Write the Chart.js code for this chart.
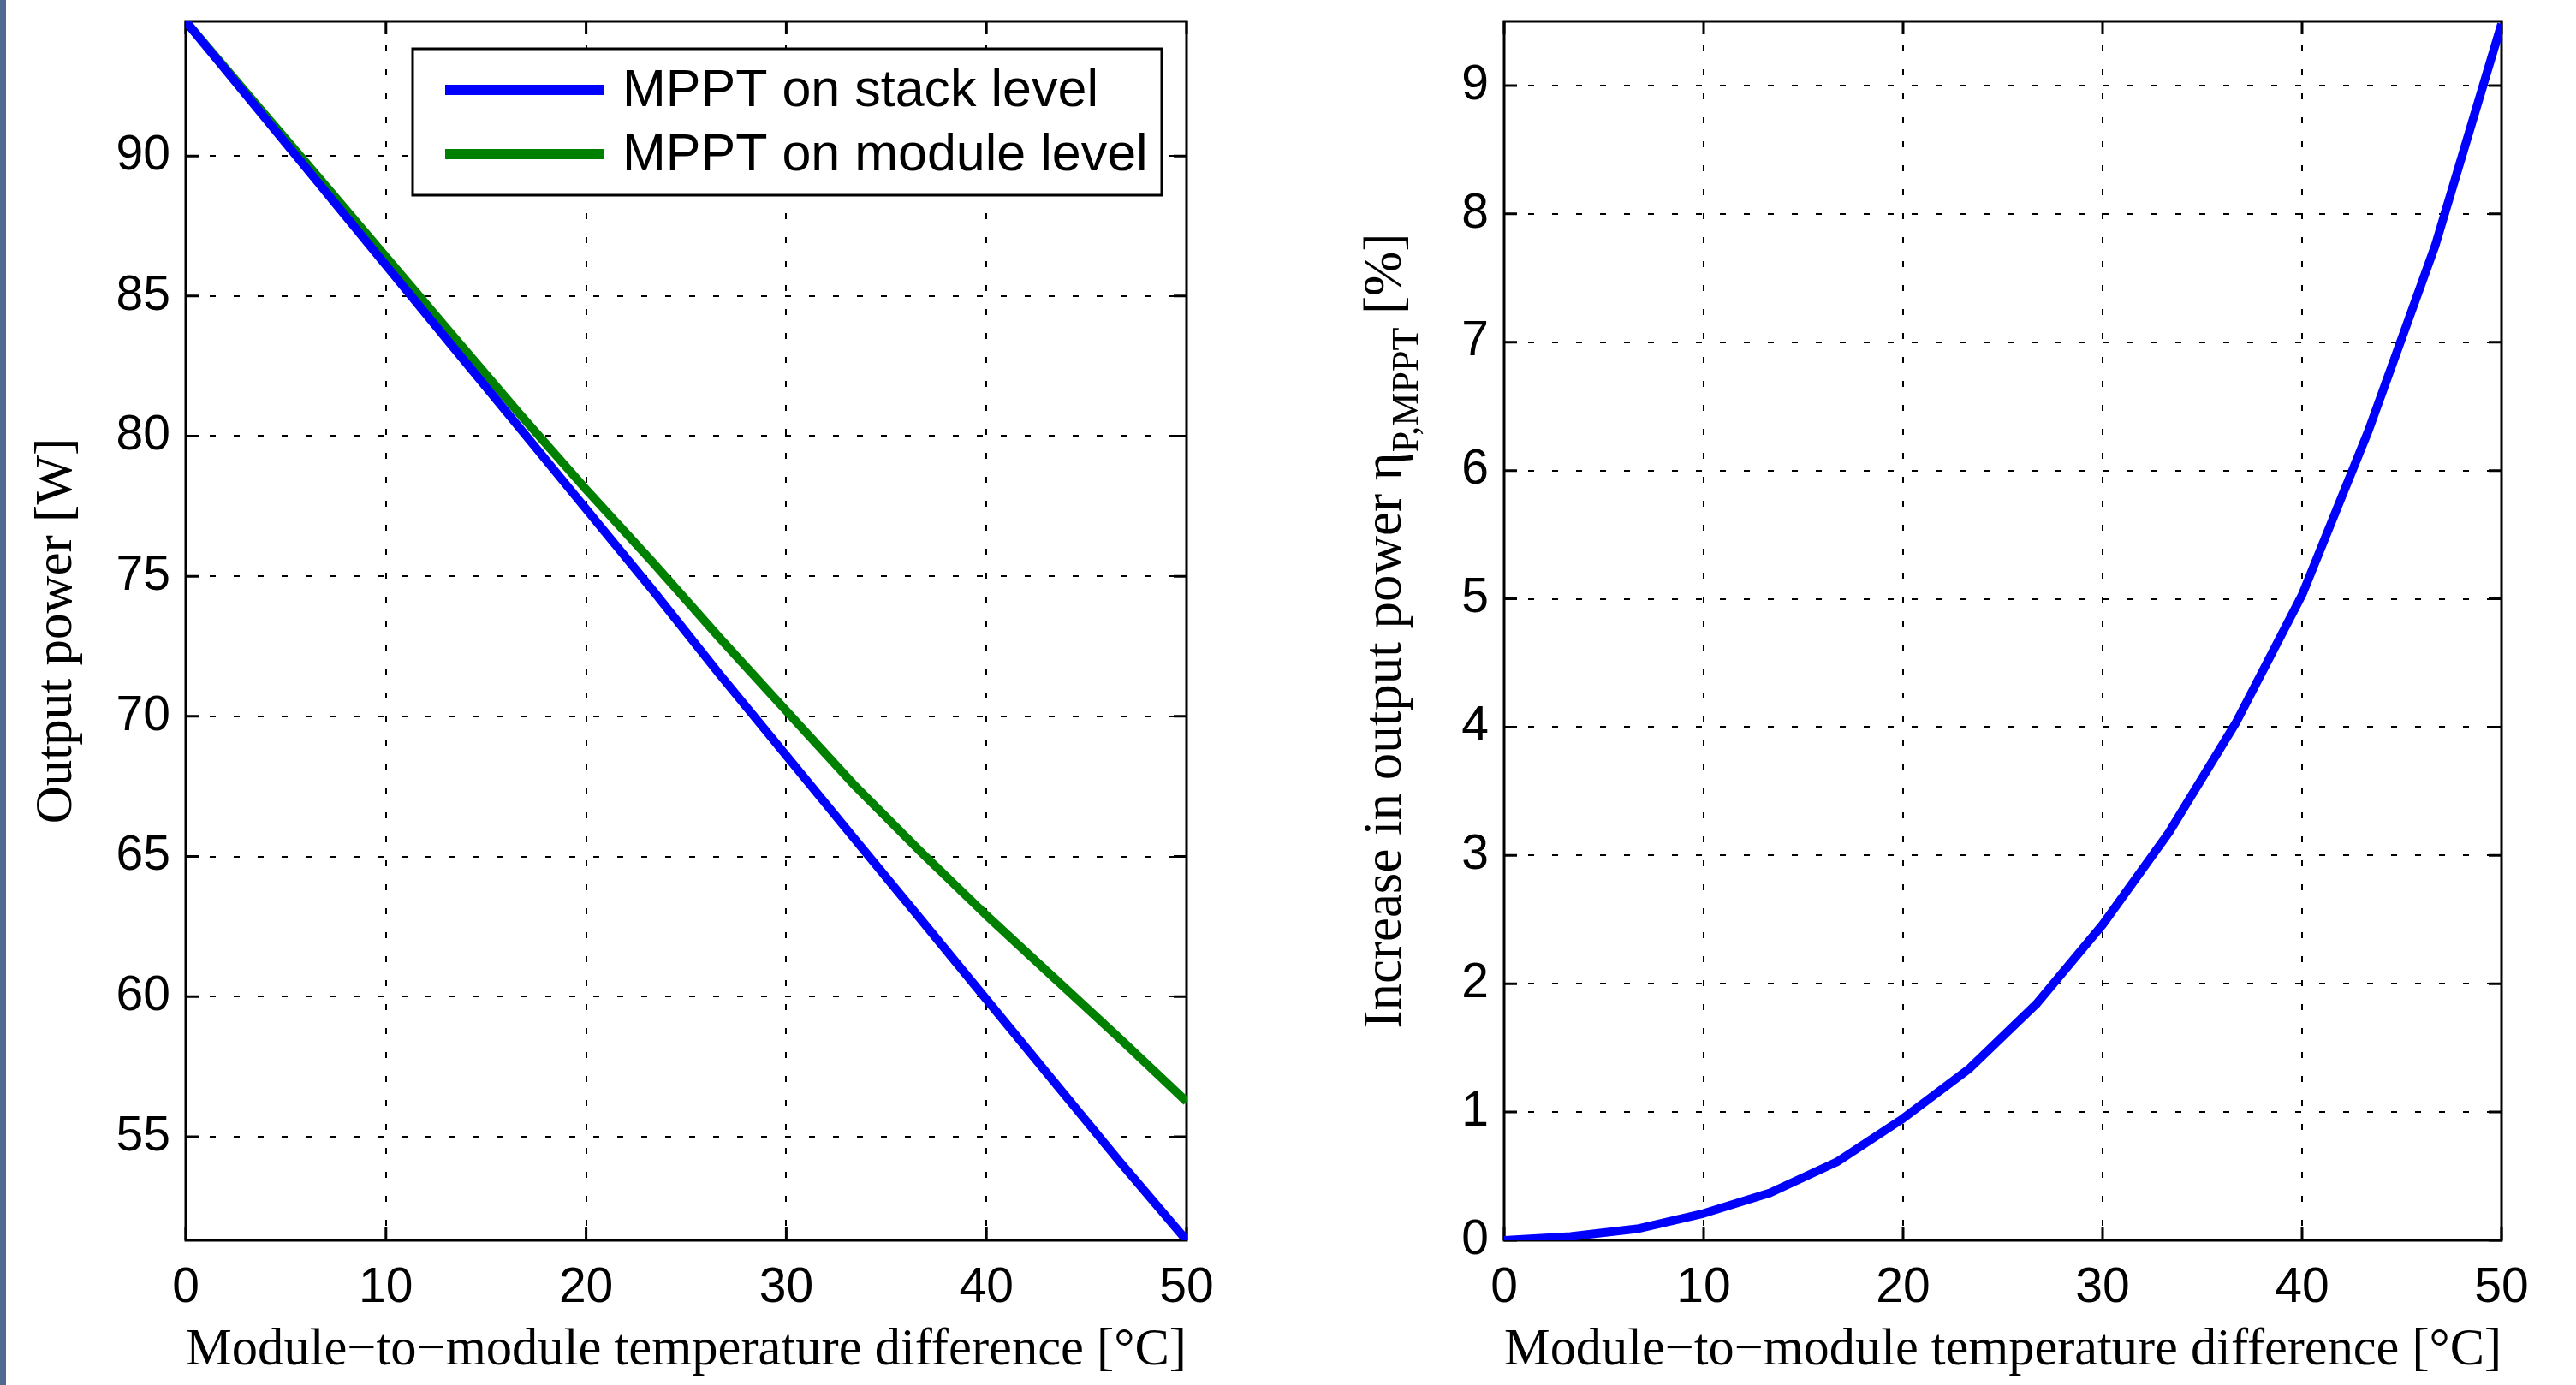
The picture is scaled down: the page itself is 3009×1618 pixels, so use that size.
<!DOCTYPE html>
<html lang="en">
<head>
<meta charset="UTF-8" />
<title>MPPT on stack level vs module level</title>
<script src="https://cdn.jsdelivr.net/npm/chart.js@4/dist/chart.umd.min.js"></script>
<style>
  html, body { margin: 0; padding: 0; background: #fff; }
  body { width: 3009px; height: 1618px; position: relative; overflow: hidden; }
  .strip { position: absolute; left: 0; top: 0; width: 7px; height: 1618px; background: #4f6a8f; z-index: 2; }
  canvas { position: absolute; top: 0; }
  #powerChart { left: 0; }
  #gainChart { left: 1560px; }
</style>
</head>
<body>
<div class="strip"></div>
<canvas id="powerChart" width="1560" height="1618"></canvas>
<canvas id="gainChart" width="1449" height="1618"></canvas>

<script>
// module-to-module temperature difference [°C]
const deltaT = [0, 3.33, 6.67, 10, 13.33, 16.67, 20, 23.33, 26.67, 30, 33.33, 36.67, 40, 43.33, 46.67, 50];

// output power [W]
const powerStack  = [94.8, 91.9, 89.0, 86.1, 83.2, 80.3, 77.4, 74.5, 71.5, 68.6, 65.7, 62.8, 59.9, 57.0, 54.1, 51.3];
const powerModule = [94.8, 92.0, 89.2, 86.4, 83.6, 80.8, 78.1, 75.5, 72.8, 70.2, 67.6, 65.2, 62.9, 60.7, 58.5, 56.25];

// increase in output power [%]
const gainMppt = [0, 0.03, 0.09, 0.21, 0.37, 0.61, 0.95, 1.34, 1.84, 2.46, 3.18, 4.03, 5.03, 6.31, 7.75, 9.48];

const xTicks = [0, 10, 20, 30, 40, 50];
const powerTicks = [55, 60, 65, 70, 75, 80, 85, 90];
const gainTicks = [0, 1, 2, 3, 4, 5, 6, 7, 8, 9];

const sans = "'Liberation Sans', Arial, sans-serif";
const serif = "'Liberation Serif', 'Times New Roman', serif";

function points(ys) {
  return deltaT.map((t, i) => ({ x: t, y: ys[i] }));
}

// box round the plot and inward ticks on all four sides, like matlab
const matlabAxes = {
  id: 'matlabAxes',
  beforeDatasetsDraw(chart) {
    const { ctx, chartArea: a, scales: { x, y } } = chart;
    const len = 15;
    ctx.save();
    ctx.strokeStyle = '#000';
    ctx.lineWidth = 3;
    ctx.beginPath();
    x.ticks.forEach(t => {
      const px = x.getPixelForValue(t.value);
      ctx.moveTo(px, a.bottom); ctx.lineTo(px, a.bottom - len);
      ctx.moveTo(px, a.top); ctx.lineTo(px, a.top + len);
    });
    y.ticks.forEach(t => {
      const py = y.getPixelForValue(t.value);
      ctx.moveTo(a.left, py); ctx.lineTo(a.left + len, py);
      ctx.moveTo(a.right, py); ctx.lineTo(a.right - len, py);
    });
    ctx.stroke();
    ctx.strokeRect(a.left, a.top, a.width, a.height);
    ctx.restore();
  }
};

// legend box inside the left plot
const boxLegend = {
  id: 'boxLegend',
  afterDatasetsDraw(chart) {
    const { ctx, chartArea: a } = chart;
    const bx = a.left + 265, by = a.top + 32, bw = 875, bh = 171;
    ctx.save();
    ctx.fillStyle = '#fff';
    ctx.fillRect(bx, by, bw, bh);
    ctx.strokeStyle = '#000';
    ctx.lineWidth = 3;
    ctx.strokeRect(bx, by, bw, bh);
    ctx.font = '61px ' + sans;
    ctx.textBaseline = 'middle';
    chart.data.datasets.forEach((ds, i) => {
      const cy = by + 48 + i * 75;
      ctx.strokeStyle = ds.borderColor;
      ctx.lineWidth = 12;
      ctx.beginPath();
      ctx.moveTo(bx + 38, cy);
      ctx.lineTo(bx + 224, cy);
      ctx.stroke();
      ctx.fillStyle = '#000';
      ctx.fillText(ds.label, bx + 245, cy + 2);
    });
    ctx.restore();
  }
};

// y title with subscript for the right plot
const gainTitle = {
  id: 'gainTitle',
  afterDraw(chart) {
    const { ctx, chartArea: a } = chart;
    const head = 'Increase in output power η';
    const sub = 'P,MPPT';
    const tail = ' [%]';
    const big = '63px ' + serif, small = '44px ' + serif;
    ctx.save();
    ctx.fillStyle = '#000';
    ctx.textBaseline = 'alphabetic';
    ctx.font = big;
    const wHead = ctx.measureText(head).width;
    const wTail = ctx.measureText(tail).width;
    ctx.font = small;
    const wSub = ctx.measureText(sub).width;
    const x0 = -(wHead + wSub + wTail) / 2;
    ctx.translate(76, (a.top + a.bottom) / 2);
    ctx.rotate(-Math.PI / 2);
    ctx.font = big;
    ctx.fillText(head, x0, 0);
    ctx.font = small;
    ctx.fillText(sub, x0 + wHead, 20);
    ctx.font = big;
    ctx.fillText(tail, x0 + wHead + wSub, 0);
    ctx.restore();
  }
};

function axisOpts(min, max, tickValues, fitSize, isX, title) {
  return {
    type: 'linear',
    min: min,
    max: max,
    afterBuildTicks: s => { s.ticks = tickValues.map(v => ({ value: v })); },
    afterFit: s => {
      if (isX) {
        s.height = fitSize;
      } else {
        s.width = fitSize;
        s.paddingTop = 0;
        s.paddingBottom = 0;
      }
    },
    grid: { color: '#000', lineWidth: 2, drawTicks: false },
    border: { display: false, dash: [7, 21] },
    ticks: {
      color: '#000',
      font: { family: sans, size: 57 },
      padding: isX ? 22 : 18,
      maxRotation: 0,
      autoSkip: false
    },
    title: title
  };
}

const xTitle = {
  display: true,
  text: 'Module\u2212to\u2212module temperature difference [°C]',
  color: '#000',
  font: { family: serif, size: 61, lineHeight: 1 },
  padding: { top: 0, bottom: 10 }
};

// left: output power
new Chart(document.getElementById('powerChart'), {
  type: 'line',
  data: {
    datasets: [{
      label: 'MPPT on stack level',
      data: points(powerStack),
      borderColor: '#0000ff'
    }, {
      label: 'MPPT on module level',
      data: points(powerModule),
      borderColor: '#008000'
    }]
  },
  options: {
    responsive: false,
    animation: false,
    layout: { padding: { left: 0, right: 174, top: 25, bottom: 0 } },
    elements: {
      line: { borderWidth: 10, tension: 0, borderJoinStyle: 'round', fill: false },
      point: { radius: 0 }
    },
    scales: {
      x: axisOpts(0, 50, xTicks, 169, true, xTitle),
      y: axisOpts(51.3, 94.8, powerTicks, 217, false, {
        display: true,
        text: 'Output power [W]',
        color: '#000',
        font: { family: serif, size: 61, lineHeight: 1 },
        padding: { top: 36, bottom: 0 }
      })
    },
    plugins: { legend: { display: false }, tooltip: { enabled: false } }
  },
  plugins: [matlabAxes, boxLegend]
});

// right: increase in output power
new Chart(document.getElementById('gainChart'), {
  type: 'line',
  data: {
    datasets: [{
      label: 'Increase in output power',
      data: points(gainMppt),
      borderColor: '#0000ff'
    }]
  },
  options: {
    responsive: false,
    animation: false,
    layout: { padding: { left: 0, right: 87, top: 25, bottom: 0 } },
    elements: {
      line: { borderWidth: 10, tension: 0, borderJoinStyle: 'round', fill: false },
      point: { radius: 0 }
    },
    scales: {
      x: axisOpts(0, 50, xTicks, 169, true, xTitle),
      y: axisOpts(0, 9.5, gainTicks, 197, false, { display: false })
    },
    plugins: { legend: { display: false }, tooltip: { enabled: false } }
  },
  plugins: [matlabAxes, gainTitle]
});
</script>
</body>
</html>
